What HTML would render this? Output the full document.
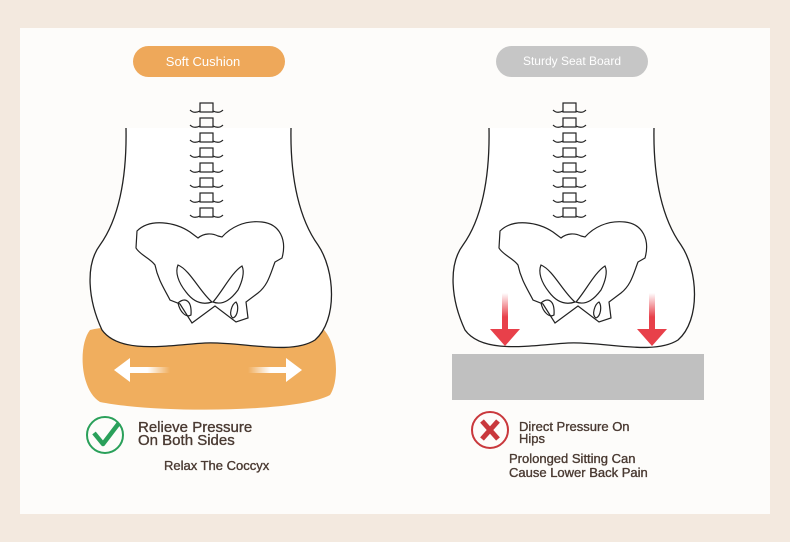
<!DOCTYPE html>
<html><head><meta charset="utf-8"><style>
html,body{margin:0;padding:0;background:#f3e9df;}
svg{display:block;font-family:"Liberation Sans",Arial,sans-serif;}
</style></head><body>
<svg width="790" height="542" viewBox="0 0 790 542" xmlns="http://www.w3.org/2000/svg">
<defs>
<linearGradient id="gl" x1="0" x2="1"><stop offset="0" stop-color="#fff"/><stop offset="0.5" stop-color="#fff"/><stop offset="1" stop-color="#fff" stop-opacity="0"/></linearGradient>
<linearGradient id="gr" x1="1" x2="0"><stop offset="0" stop-color="#fff"/><stop offset="0.5" stop-color="#fff"/><stop offset="1" stop-color="#fff" stop-opacity="0"/></linearGradient>
<linearGradient id="rd" x1="0" y1="0" x2="0" y2="1"><stop offset="0" stop-color="#e8404a" stop-opacity="0"/><stop offset="0.6" stop-color="#e8404a"/></linearGradient>
<g id="fig">
 <path d="M126,128 C127,180 118,220 100,245 C85,265 88,300 102,330 C120,355 170,345 205,343 C240,341 290,356 315,340 C338,320 335,270 318,245 C300,220 290,180 291,128" fill="#fff" stroke="#222" stroke-width="1.3"/>
 <g fill="none" stroke="#222" stroke-width="1.2">
  <g id="vt"><rect x="200" y="103" width="13" height="9"/><path d="M190,110 q4,4 10,1 M213,111 q6,3 10,-1"/></g>
  <use href="#vt" y="15"/><use href="#vt" y="30"/><use href="#vt" y="45"/><use href="#vt" y="60"/><use href="#vt" y="75"/><use href="#vt" y="90"/><use href="#vt" y="105"/>
  <path d="M137,231 C150,218 175,222 190,232 L198,238 C204,233 212,233 218,236 L222,237 C230,228 244,220 262,222 C280,224 287,240 282,258 L275,262 C270,275 268,285 258,293 L246,302 L248,318 L236,322 L215,306 L192,323 L180,304 L170,300 C165,290 158,280 155,265 C150,258 140,255 136,248 Z"/>
  <path d="M178,265 C190,270 200,292 212,302 C200,306 192,300 186,292 C178,282 175,272 178,265 Z"/>
  <path d="M242,266 C232,272 222,292 213,302 C224,306 232,298 238,290 C242,282 245,272 242,266 Z"/>
  <path d="M178,303 C185,297 192,300 191,315 C186,318 180,312 178,303 Z"/>
  <path d="M236,302 C232,304 228,315 233,318 C238,316 239,306 236,302 Z"/>
 </g>
</g>
</defs>
<rect x="20" y="28" width="750" height="486" fill="#fdfcfa"/>
<!-- left -->
<rect x="133" y="46" width="152" height="31" rx="15.5" fill="#eea85a"/>
<text x="203" y="66" fill="#fff" font-size="13" text-anchor="middle">Soft Cushion</text>
<path d="M90,330 C120,322 160,338 200,341 C240,342 285,322 320,326 C338,340 340,380 330,395 C300,412 160,414 100,402 C80,390 78,345 90,330 Z" fill="#f0ae5e"/>
<use href="#fig"/>
<rect x="125" y="367" width="45" height="6" fill="url(#gl)"/><path d="M114,370 L130,358 L130,382 Z" fill="#fff"/>
<rect x="248" y="367" width="45" height="6" fill="url(#gr)"/><path d="M302,370 L286,358 L286,382 Z" fill="#fff"/>
<circle cx="105" cy="435" r="18" fill="none" stroke="#2aa05a" stroke-width="2"/>
<path d="M94,433 L103,444 L119,423" fill="none" stroke="#2aa05a" stroke-width="4.5" stroke-linejoin="round"/>
<g fill="#4a3a32" stroke="#4a3a32" stroke-width="0.35">
<g font-size="15"><text x="138" y="432">Relieve Pressure</text><text x="138" y="445">On Both Sides</text></g>
<text x="164" y="470" font-size="13">Relax The Coccyx</text>
<g font-size="13"><text x="519" y="431">Direct Pressure On</text><text x="519" y="443">Hips</text>
<text x="509" y="463">Prolonged Sitting Can</text><text x="509" y="477">Cause Lower Back Pain</text></g>
</g>
<!-- right -->
<rect x="496" y="46" width="152" height="31" rx="15.5" fill="#c6c6c6"/>
<text x="572" y="65" fill="#fff" font-size="12" text-anchor="middle">Sturdy Seat Board</text>
<rect x="452" y="354" width="252" height="46" fill="#c0c0c0"/>
<use href="#fig" x="363"/>
<rect x="502" y="293" width="6" height="40" fill="url(#rd)"/><path d="M490,329 L520,329 L505,346 Z" fill="#e8404a"/>
<rect x="649" y="293" width="6" height="40" fill="url(#rd)"/><path d="M637,329 L667,329 L652,346 Z" fill="#e8404a"/>
<circle cx="490" cy="430" r="18" fill="none" stroke="#c9383c" stroke-width="2"/>
<path d="M482,421 L498,439 M498,421 L482,439" stroke="#c9383c" stroke-width="5"/>
</svg>
</body></html>
